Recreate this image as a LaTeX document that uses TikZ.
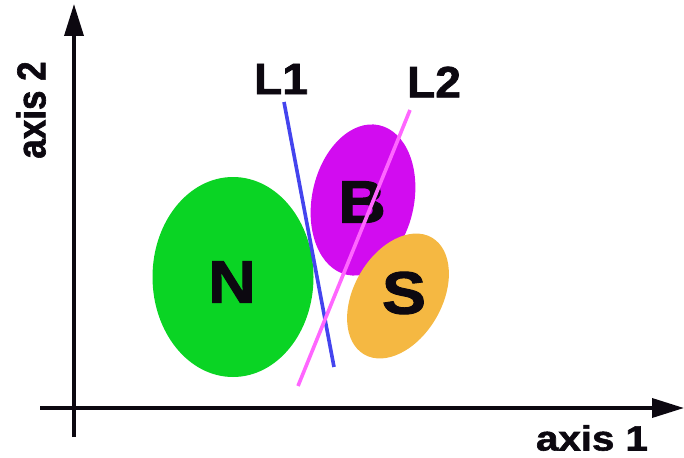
\documentclass[tikz,border=0pt]{standalone}
\usepackage{fontspec}
\setmainfont{Liberation Sans}[BoldFeatures={FakeBold=1.6}]
\usetikzlibrary{arrows.meta,shapes.geometric}
\definecolor{ngreen}{HTML}{0AD424}
\definecolor{bmag}{HTML}{D20CF0}
\definecolor{sorange}{HTML}{F5B842}
\definecolor{lblue}{HTML}{4444EE}
\definecolor{lpink}{HTML}{FF66FF}
\definecolor{ink}{HTML}{0C0810}
\begin{document}
\begin{tikzpicture}[x=1pt,y=-1pt,
  axisline/.style={draw=ink,line width=3.6pt,-{Triangle[length=32pt,width=19pt]}},
  blob/.style={ellipse,inner sep=0pt,draw=none},
  bigletter/.style={font=\fontsize{60}{60}\selectfont\bfseries,text=ink,inner sep=0pt,xscale=1.1},
  linelabel/.style={font=\fontsize{44}{44}\selectfont\bfseries,text=ink,inner sep=0pt,xscale=1.05},
  axislabel/.style={font=\fontsize{35}{35}\selectfont\bfseries,text=ink,inner sep=0pt,xscale=1.15},
  sep/.style={line width=3.6pt}]
\useasboundingbox (0,0) rectangle (684,457);
% axes
\coordinate (xs) at (40,408);
\coordinate (xe) at (684,408);
\coordinate (ys) at (74,437);
\coordinate (ye) at (74,4);
\draw[axisline] (xs) -- (xe);
\draw[axisline] (ys) -- (ye);
\node[axislabel] (ax1) at (592,438) {axis 1};
\node[axislabel,rotate=90] (ax2) at (31,110) {axis 2};
% clusters
\node[blob,fill=ngreen,minimum width=161pt,minimum height=200pt] (N) at (233,277) {};
\node[blob,fill=bmag,minimum width=102pt,minimum height=153pt,rotate=-12] (B) at (363,200) {};
\node[blob,fill=sorange,minimum width=88pt,minimum height=135pt,rotate=-30] (S) at (398,296) {};
\node[bigletter] (Nt) at (232,282) {N};
\node[bigletter] (Bt) at (362,202) {B};
\node[bigletter] (St) at (404,293) {S};
% separating lines
\coordinate (l1a) at (284,102);
\coordinate (l1b) at (334,367);
\coordinate (l2a) at (410,110);
\coordinate (l2b) at (298,386);
\draw[sep,draw=lblue] (l1a) -- (l1b);
\draw[sep,draw=lpink] (l2a) -- (l2b);
\node[linelabel] (L1) at (281,79) {L1};
\node[linelabel] (L2) at (434,82) {L2};
\end{tikzpicture}
\end{document}
